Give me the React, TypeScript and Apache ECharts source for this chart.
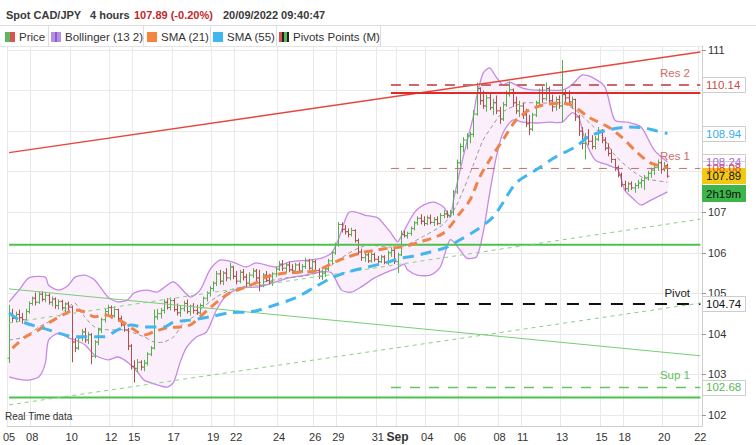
import React, { useEffect, useRef } from 'react';
import * as echarts from 'echarts';

const FONT = "'Liberation Sans', Arial, sans-serif";

// x-axis: 4-hour bars (trading time only); labels at bar indices
const dateLabels: [number, string][] = [
  [0, '05'], [7, '08'], [19, '10'], [31, '12'], [38, '15'], [50, '17'], [62, '19'], [69, '22'],
  [82, '24'], [93, '26'], [100, '29'], [112, '31'], [118, 'Sep'], [127, '04'], [137, '06'],
  [149, '08'], [156, '11'], [168, '13'], [180, '15'], [187, '18'], [199, '20'], [210, '22'],
];
const SLOT_COUNT = 211;

// price bars: [open, high, low, close]
const ohlc: number[][] = [
  [103.40,104.72,103.28,104.50],[104.50,104.62,104.30,104.38],[104.38,104.55,104.28,104.48],[104.48,104.60,104.32,104.40],
  [104.40,104.52,104.25,104.35],[104.35,104.62,104.33,104.55],[104.55,104.80,104.50,104.75],[104.75,104.92,104.70,104.88],
  [104.88,105.02,104.70,104.78],[104.78,105.04,104.74,104.98],[104.98,105.05,104.80,104.85],[104.85,105.02,104.78,104.95],
  [104.95,105.00,104.72,104.78],[104.78,104.92,104.68,104.86],[104.86,104.90,104.62,104.70],[104.70,104.85,104.60,104.80],
  [104.80,104.84,104.58,104.64],[104.64,104.78,104.52,104.74],[104.74,104.80,104.55,104.66],[104.66,104.70,103.30,103.80],
  [103.80,103.90,103.55,103.65],[103.65,103.95,103.60,103.90],[103.90,104.12,103.82,104.05],[104.05,104.15,103.78,103.85],
  [103.85,104.05,103.75,103.98],[103.98,104.02,103.25,103.45],[103.45,103.85,103.40,103.80],[103.80,104.15,103.72,104.10],
  [104.10,104.40,104.02,104.35],[104.35,104.62,104.28,104.55],[104.55,104.72,104.42,104.65],[104.65,104.70,104.38,104.45],
  [104.45,104.68,104.40,104.60],[104.60,104.62,104.30,104.38],[104.38,104.45,104.18,104.22],[104.22,104.30,104.05,104.10],
  [104.10,104.15,103.60,103.70],[103.70,103.75,103.12,103.20],[103.20,103.35,102.80,103.15],[103.15,103.38,103.05,103.30],
  [103.30,103.35,103.10,103.18],[103.18,103.36,103.08,103.28],[103.28,103.55,103.22,103.50],[103.50,103.70,103.45,103.65],
  [103.65,104.60,103.62,104.42],[104.42,104.62,104.35,104.50],[104.50,104.64,104.38,104.58],[104.58,104.85,104.50,104.78],
  [104.78,104.88,104.60,104.65],[104.65,104.90,104.58,104.82],[104.82,104.88,104.55,104.60],[104.60,104.75,104.45,104.52],
  [104.52,104.70,104.42,104.62],[104.62,104.82,104.55,104.75],[104.75,104.85,104.50,104.55],[104.55,104.72,104.45,104.68],
  [104.68,104.76,104.50,104.58],[104.58,104.72,104.47,104.52],[104.52,104.75,104.48,104.70],[104.70,104.92,104.65,104.88],
  [104.88,105.05,104.80,105.00],[105.00,105.18,104.92,105.12],[105.12,105.30,105.05,105.25],[105.25,105.55,105.18,105.48],
  [105.48,105.58,105.22,105.30],[105.30,105.55,105.20,105.50],[105.50,105.62,105.30,105.38],[105.38,105.75,105.32,105.65],
  [105.65,105.68,105.35,105.42],[105.42,105.55,105.22,105.30],[105.30,105.58,105.25,105.52],[105.52,105.60,105.32,105.40],
  [105.40,105.48,105.15,105.25],[105.25,105.52,105.18,105.45],[105.45,105.62,105.38,105.55],[105.55,105.60,105.30,105.38],
  [105.38,105.58,105.05,105.20],[105.20,105.50,105.15,105.45],[105.45,105.55,105.28,105.32],[105.32,105.48,105.22,105.28],
  [105.28,105.52,105.18,105.48],[105.48,105.65,105.40,105.60],[105.60,105.80,105.55,105.72],[105.72,105.82,105.55,105.62],
  [105.62,105.75,105.50,105.70],[105.70,105.78,105.52,105.58],[105.58,105.72,105.48,105.55],[105.55,105.75,105.50,105.70],
  [105.70,105.76,105.50,105.55],[105.55,105.72,105.50,105.66],[105.66,105.88,105.60,105.80],[105.80,105.85,105.58,105.62],
  [105.62,105.84,105.55,105.78],[105.78,105.82,105.52,105.56],[105.56,105.62,105.35,105.42],[105.42,105.58,105.33,105.50],
  [105.50,105.65,105.40,105.60],[105.60,105.85,105.55,105.80],[105.80,106.05,105.72,106.00],[106.00,106.25,105.95,106.20],
  [106.20,106.76,106.15,106.70],[106.70,106.75,106.50,106.58],[106.58,106.68,106.45,106.52],[106.52,106.60,106.38,106.45],
  [106.45,106.62,106.40,106.55],[106.55,106.58,106.25,106.30],[106.30,106.35,105.95,106.02],[106.02,106.10,105.80,105.88],
  [105.88,106.02,105.78,105.95],[105.95,106.00,105.75,105.80],[105.80,106.02,105.76,105.96],[105.96,106.00,105.78,105.84],
  [105.84,105.92,105.74,105.78],[105.78,105.95,105.75,105.90],[105.90,105.94,105.72,105.76],[105.76,106.05,105.70,106.00],
  [106.00,106.12,105.90,106.06],[106.06,106.10,105.72,105.78],[105.78,106.00,105.50,105.95],[105.95,106.55,105.92,106.45],
  [106.45,106.55,106.38,106.42],[106.42,106.52,106.35,106.48],[106.48,106.65,106.42,106.60],[106.60,106.78,106.55,106.74],
  [106.74,106.90,106.68,106.85],[106.85,106.95,106.70,106.78],[106.78,106.90,106.66,106.72],[106.72,106.92,106.68,106.86],
  [106.86,106.94,106.70,106.75],[106.75,106.88,106.66,106.82],[106.82,106.90,106.68,106.72],[106.72,106.98,106.70,106.92],
  [106.92,107.05,106.85,106.96],[106.96,107.04,106.86,106.92],[106.92,107.06,106.88,107.00],[107.00,107.55,106.92,107.50],
  [107.50,108.30,107.45,108.22],[108.22,108.70,108.15,108.62],[108.62,108.85,108.48,108.78],[108.78,108.95,108.55,108.88],
  [108.88,108.98,108.70,108.92],[108.92,109.52,108.85,109.42],[109.42,110.20,109.38,110.05],[110.05,110.08,109.65,109.75],
  [109.75,110.00,109.55,109.62],[109.62,109.90,109.48,109.82],[109.82,109.95,109.52,109.58],[109.58,109.80,109.40,109.70],
  [109.70,109.88,109.42,109.50],[109.50,109.60,109.18,109.30],[109.30,109.72,109.25,109.65],[109.65,110.00,109.60,109.92],
  [109.92,110.22,109.85,110.02],[110.02,110.05,109.60,109.70],[109.70,109.85,109.42,109.50],[109.50,109.75,109.35,109.62],
  [109.62,109.70,109.30,109.40],[109.40,109.55,109.10,109.18],[109.18,109.40,108.90,109.05],[109.05,109.45,109.00,109.40],
  [109.40,109.75,109.35,109.70],[109.70,110.05,109.62,109.95],[109.95,110.10,109.70,109.80],[109.80,110.20,109.75,110.05],
  [110.05,110.10,109.65,109.75],[109.75,109.90,109.48,109.60],[109.60,109.85,109.50,109.78],[109.78,109.88,109.55,109.62],
  [109.62,110.75,109.22,109.90],[109.90,110.02,109.70,109.82],[109.82,110.00,109.62,109.72],[109.72,109.85,109.55,109.78],
  [109.78,109.80,109.25,109.35],[109.35,109.40,108.88,109.00],[109.00,109.10,108.55,108.70],[108.70,108.95,108.30,108.85],
  [108.85,109.05,108.65,108.75],[108.75,108.90,108.55,108.62],[108.62,108.88,108.55,108.80],[108.80,109.10,108.75,109.02],
  [109.02,109.05,108.70,108.78],[108.78,108.85,108.52,108.58],[108.58,108.70,108.38,108.45],[108.45,108.55,108.22,108.30],
  [108.30,108.32,108.02,108.10],[108.10,108.15,107.86,107.92],[107.92,107.98,107.62,107.68],[107.68,107.78,107.52,107.58],
  [107.58,107.75,107.50,107.70],[107.70,107.76,107.55,107.60],[107.60,107.72,107.48,107.66],[107.66,107.80,107.58,107.72],
  [107.72,107.84,107.60,107.78],[107.78,107.92,107.55,107.86],[107.86,108.02,107.78,107.96],[107.96,108.10,107.85,108.04],
  [108.04,108.15,107.92,108.10],[108.10,108.30,108.02,108.22],[108.22,108.28,107.95,108.05],[108.05,108.24,108.00,108.15],
  [108.15,108.20,107.85,107.89],
];

// Bollinger (13, 2) readings: [bar index, value]
const bbUpper: [number, number][] = [
  [0,104.79],[3,105.08],[6,105.38],[11,105.40],[12,105.20],[15,105.08],[18,105.20],[20,105.40],[23,105.45],[26,105.33],
  [30,104.91],[33,104.79],[36,104.84],[38,105.01],[42,105.08],[45,105.03],[50,105.28],[55,104.91],[58,105.08],[61,105.58],
  [64,105.82],[68,105.77],[72,105.65],[75,105.75],[81,105.65],[85,105.77],[91,105.82],[95,105.87],[98,106.00],[100,106.32],
  [103,106.98],[105,107.01],[108,106.93],[112,106.86],[114,106.69],[116,106.49],[118,106.27],[119,106.39],[123,106.98],
  [126,107.18],[129,107.25],[132,107.13],[134,106.88],[135,107.30],[137,108.04],[139,108.71],[141,109.35],[142,109.84],
  [144,110.43],[146,110.56],[148,110.33],[150,110.14],[152,110.21],[156,110.06],[160,110.01],[164,110.01],[168,110.01],
  [171,110.14],[174,110.38],[177,110.33],[181,110.09],[184,109.27],[188,109.22],[192,109.10],[196,108.53],[200,108.24],
];
const bbLower: [number, number][] = [
  [0,102.94],[5,102.86],[9,102.94],[11,103.28],[12,103.85],[15,104.02],[18,103.90],[20,103.85],[23,103.73],[26,103.48],
  [30,103.36],[33,103.43],[35,103.36],[37,103.23],[39,103.06],[41,102.86],[44,102.77],[48,102.69],[50,102.81],[52,103.31],
  [54,103.68],[57,103.93],[60,104.05],[63,104.59],[66,104.94],[70,105.13],[76,105.16],[81,105.28],[85,105.38],[90,105.45],
  [95,105.53],[98,105.50],[101,105.08],[104,105.03],[107,105.16],[111,105.38],[115,105.53],[118,105.63],[120,105.72],
  [121,105.58],[124,105.45],[128,105.45],[131,105.65],[134,106.32],[137,106.07],[139,105.87],[142,105.90],[144,106.49],
  [146,107.47],[148,108.36],[150,108.95],[153,109.27],[156,109.22],[160,109.20],[164,109.22],[168,109.22],[171,109.45],
  [173,109.35],[175,108.78],[178,108.29],[182,108.16],[185,108.04],[187,107.55],[190,107.30],[192,107.18],[195,107.30],
  [200,107.50],
];
const bbMiddle: [number, number][] = [
  [0,103.85],[5,103.93],[9,104.17],[15,104.42],[18,104.66],[20,104.76],[23,104.42],[26,104.17],[30,104.10],[35,104.10],
  [38,104.02],[41,103.93],[44,103.80],[47,103.80],[50,103.93],[53,104.27],[56,104.42],[59,104.66],[63,104.91],[67,105.08],
  [71,105.16],[76,105.26],[84,105.38],[90,105.43],[96,105.58],[100,105.82],[105,106.07],[109,106.19],[115,106.14],
  [120,106.17],[126,106.41],[132,106.71],[136,107.18],[141,108.16],[144,108.78],[147,109.15],[150,109.47],[156,109.69],
  [162,109.69],[168,109.69],[172,109.52],[177,109.15],[180,108.90],[184,108.41],[189,108.04],[193,107.84],[200,107.74],
];
const sma21: [number, number][] = [
  [1,103.65],[5,103.93],[9,104.10],[12,104.27],[18,104.54],[20,104.59],[23,104.54],[26,104.42],[29,104.47],[32,104.39],
  [35,104.27],[38,104.10],[41,103.97],[44,104.05],[48,104.15],[52,104.17],[55,104.22],[58,104.42],[61,104.64],[64,104.84],
  [67,105.01],[71,105.13],[75,105.26],[78,105.40],[84,105.50],[90,105.53],[93,105.55],[99,105.77],[103,105.90],[108,106.02],
  [112,106.07],[116,106.12],[119,106.14],[125,106.27],[132,106.49],[137,106.98],[140,107.30],[143,107.87],[146,108.29],
  [150,108.78],[154,109.27],[158,109.52],[162,109.64],[168,109.69],[171,109.64],[176,109.35],[182,109.10],[186,108.86],
  [191,108.46],[195,108.21],[200,108.10],
];
const sma55: [number, number][] = [
  [0,104.52],[4,104.30],[12,104.10],[15,104.02],[20,103.93],[29,103.93],[33,104.10],[37,104.22],[41,104.17],[47,104.17],
  [50,104.29],[55,104.34],[61,104.42],[67,104.52],[73,104.54],[76,104.59],[87,104.89],[93,105.16],[98,105.38],[103,105.53],
  [109,105.65],[115,105.77],[119,105.87],[123,105.92],[128,106.02],[133,106.14],[137,106.32],[142,106.56],[147,106.88],
  [150,107.23],[154,107.72],[160,108.04],[166,108.36],[172,108.61],[176,108.86],[182,109.03],[188,109.10],[193,109.08],
  [197,109.00],[200,108.94],
];

// monthly pivot points
const pivotLevels = { res2: 110.14, res1: 108.08, pivot: 104.74, sup1: 102.68 };
const pivotStart = 116;
// drawn trend lines and levels: [bar index, value]
const redTrend: [number, number][] = [[0, 108.47], [210, 110.95]];
const redLevel: [number, number][] = [[116, 109.94], [210, 109.94]];
const greenLevelHigh: [number, number][] = [[0, 106.2], [210, 106.2]];
const greenLevelLow: [number, number][] = [[0, 102.43], [210, 102.43]];
const greenDown: [number, number][] = [[0, 105.11], [210, 103.46]];
const greenDashUpper: [number, number][] = [[0, 104.27], [210, 106.83]];
const greenDashLower: [number, number][] = [[0, 102.25], [210, 104.76]];
const countdown = '2h19m';

const UP = '#55b04f';
const DOWN = '#b0504c';

function lineSeries(data: [number, number][], color: string, width: number, type: any, z = 3) {
  return {
    type: 'line', data, showSymbol: false, symbol: 'none', silent: true, z,
    lineStyle: { color, width, type },
  };
}

export default function App() {
  const ref = useRef<HTMLDivElement>(null);
  useEffect(() => {
    const chart = echarts.init(ref.current!, null, { renderer: 'svg' });
    const categories: string[] = Array.from({ length: SLOT_COUNT }, () => '');
    dateLabels.forEach(([i, s]) => { categories[i] = s; });
    const shown = (idx: number, val: string) => val !== '';

    const lastClose = ohlc[ohlc.length - 1][3];
    const tags = [
      { v: pivotLevels.res2, color: '#cc4a4a' },
      { v: sma55[sma55.length - 1][1], color: '#3aaee8' },
      { v: bbUpper[bbUpper.length - 1][1], color: '#b06ad8' },
      { v: pivotLevels.res1, color: '#cc4a4a' },
      { v: pivotLevels.pivot, color: '#111' },
      { v: pivotLevels.sup1, color: '#58b858' },
    ];
    const tagValues = tags.map((t) => t.v).concat([lastClose]);
    // axis labels that sit under a value tag are hidden (as in the source chart)
    const covered = (v: number) => tagValues.some((t) => Math.abs(t - v) < 0.2 && Math.abs(t - v) > 0.001 ? Math.abs(t - v) < 0.2 : Math.abs(t - v) < 0.2);

    const option: any = {
      animation: false,
      grid: { left: 0, right: 54, top: 46, bottom: 19, containLabel: false },
      xAxis: {
        type: 'category', data: categories, boundaryGap: true,
        axisLine: { lineStyle: { color: '#cfcfcf' } },
        axisTick: { show: false },
        axisLabel: {
          interval: shown, color: '#333', fontSize: 11, fontFamily: FONT, margin: 5,
          alignMinLabel: 'center', alignMaxLabel: 'center',
          formatter: (v: string) => (v === 'Sep' ? '{b|Sep}' : v),
          rich: { b: { fontWeight: 'bold', fontSize: 12, fontFamily: FONT, color: '#333' } },
        },
        splitLine: { show: true, interval: shown, lineStyle: { color: '#e9e9e9', width: 1 } },
      },
      yAxis: {
        type: 'value', position: 'right', min: 101.729, max: 111.099, splitNumber: 10, scale: true,
        axisLine: { show: true, lineStyle: { color: '#cfcfcf' } },
        axisTick: { show: true, length: 4, lineStyle: { color: '#999' } },
        axisLabel: {
          color: '#333', fontSize: 11, fontFamily: FONT, margin: 6, showMinLabel: false, showMaxLabel: false,
          formatter: (v: number) => (covered(v) ? '' : String(v)),
        },
        splitLine: { show: true, lineStyle: { color: '#e9e9e9' } },
      },
      series: [
        {
          type: 'custom', name: 'Bollinger', data: [[0, bbMiddle[0][1]]], silent: true, z: 1,
          renderItem: (params: any, api: any) => {
            const up = bbUpper.map((p) => api.coord(p));
            const lo = bbLower.map((p) => api.coord(p));
            const mid = bbMiddle.map((p) => api.coord(p));
            return {
              type: 'group',
              children: [
                { type: 'polygon', shape: { points: up.concat(lo.slice().reverse()), smooth: 0.25 }, style: { fill: '#fbeffb', stroke: null } },
                { type: 'polyline', shape: { points: up, smooth: 0.25 }, style: { stroke: '#c58ae6', lineWidth: 1.3, fill: null } },
                { type: 'polyline', shape: { points: lo, smooth: 0.25 }, style: { stroke: '#c58ae6', lineWidth: 1.3, fill: null } },
                { type: 'polyline', shape: { points: mid, smooth: 0.25 }, style: { stroke: '#9a9a9a', lineWidth: 1, fill: null, lineDash: [4, 3] } },
              ],
            };
          },
        },
        {
          type: 'custom', name: 'Price', silent: true, z: 2,
          data: ohlc.map((d, i) => [i, d[0], d[1], d[2], d[3]]),
          encode: { x: 0, y: [1, 2, 3, 4] },
          renderItem: (params: any, api: any) => {
            const i = api.value(0);
            const o = api.value(1), h = api.value(2), l = api.value(3), c = api.value(4);
            const po = api.coord([i, o]);
            const ph = api.coord([i, h]);
            const pl = api.coord([i, l]);
            const pc = api.coord([i, c]);
            const color = c >= o ? UP : DOWN;
            const x = Math.round(po[0]) + 0.5;
            const st = { stroke: color, lineWidth: 1 };
            return {
              type: 'group',
              children: [
                { type: 'line', shape: { x1: x, y1: ph[1], x2: x, y2: pl[1] }, style: st },
                { type: 'line', shape: { x1: x - 2, y1: po[1], x2: x, y2: po[1] }, style: st },
                { type: 'line', shape: { x1: x, y1: pc[1], x2: x + 2, y2: pc[1] }, style: st },
              ],
            };
          },
        },
        lineSeries(redTrend, '#e8453c', 1.5, 'solid'),
        lineSeries(redLevel, '#e02a2a', 2, 'solid'),
        lineSeries([[pivotStart, pivotLevels.res2], [210, pivotLevels.res2]], '#c86a6a', 2, [10, 8]),
        lineSeries([[pivotStart, pivotLevels.res1], [210, pivotLevels.res1]], '#c86a6a', 1, [8, 8]),
        lineSeries([[pivotStart, pivotLevels.pivot], [210, pivotLevels.pivot]], '#111', 2, [12, 10]),
        lineSeries([[pivotStart, pivotLevels.sup1], [210, pivotLevels.sup1]], '#66c466', 1.5, [10, 9]),
        lineSeries(greenLevelHigh, '#4cc24c', 2, 'solid'),
        lineSeries(greenLevelLow, '#4cc24c', 2, 'solid'),
        lineSeries(greenDown, '#78cd78', 1, 'solid'),
        lineSeries(greenDashUpper, '#86d086', 1, [4, 4]),
        lineSeries(greenDashLower, '#86d086', 1, [4, 4]),
        { ...lineSeries(sma21, '#f0834a', 3, [9, 6], 4), smooth: 0.3 },
        { ...lineSeries(sma55, '#43b6ee', 3, [11, 7], 4), smooth: 0.3 },
      ],
    };
    chart.setOption(option);

    const yPx = (v: number) => chart.convertToPixel({ yAxisIndex: 0 }, v) as number;
    const g: any[] = [];
    const text = (t: string, x: number, y: number, fill: string, font: string, align = 'left', z = 110) => ({
      type: 'text', x, y, z, silent: true,
      style: { text: t, fill, font, textAlign: align, textVerticalAlign: 'middle' },
    });
    const rect = (x: number, y: number, w: number, h: number, fill: string, stroke: string | null, z = 105) => ({
      type: 'rect', z, silent: true, shape: { x, y, width: w, height: h }, style: { fill, stroke, lineWidth: 1 },
    });
    // header
    const hf = `bold 11px ${FONT}`;
    g.push(text('Spot CAD/JPY', 6, 15, '#3a3a3a', hf));
    g.push(text('4 hours', 90, 15, '#3a3a3a', hf));
    g.push(text('107.89 (-0.20%)', 134, 15, '#c0282d', hf));
    g.push(text('20/09/2022 09:40:47', 223, 15, '#3a3a3a', hf));
    g.push({ type: 'line', z: 105, silent: true, shape: { x1: 0, y1: 25.5, x2: 756, y2: 25.5 }, style: { stroke: '#dddddd', lineWidth: 1 } });
    // legend
    [48, 143, 210, 276, 380].forEach((x) => g.push({ type: 'line', z: 105, silent: true, shape: { x1: x + 0.5, y1: 26, x2: x + 0.5, y2: 47 }, style: { stroke: '#dddddd', lineWidth: 1 } }));
    g.push({ type: 'line', z: 105, silent: true, shape: { x1: 0, y1: 46.5, x2: 380, y2: 46.5 }, style: { stroke: '#e4e4e4', lineWidth: 1 } });
    g.push(rect(5, 32, 5, 10, '#5cb85c', null));
    g.push(rect(10, 32, 5, 10, '#d9534f', null));
    g.push(rect(51, 32, 10, 10, '#b68fe2', null));
    g.push(rect(55, 32, 2, 10, '#8a5cc8', null));
    g.push(rect(147, 32, 10, 10, '#f5843f', null));
    g.push(rect(213, 32, 10, 10, '#3fb7f1', null));
    g.push(rect(279, 32, 3, 10, '#d9534f', null));
    g.push(rect(282, 32, 2, 10, '#222', null));
    g.push(rect(284, 32, 3, 10, '#5cb85c', null));
    g.push(rect(287, 32, 2, 10, '#222', null));
    const lf = `11.5px ${FONT}`;
    g.push(text('Price', 19, 37, '#333', lf));
    g.push(text('Bollinger (13 2)', 65, 37, '#333', lf));
    g.push(text('SMA (21)', 161, 37, '#333', lf));
    g.push(text('SMA (55)', 227, 37, '#333', lf));
    g.push(text('Pivots Points (M)', 293, 37, '#333', lf));
    g.push(text('Real Time data', 5, 416, '#333', `10px ${FONT}`));
    // level captions
    g.push(text('Res 2', 690, yPx(pivotLevels.res2) - 12, '#d06a6a', lf, 'right'));
    g.push(text('Res 1', 690, yPx(pivotLevels.res1) - 12, '#d06a6a', lf, 'right'));
    g.push(text('Pivot', 690, yPx(pivotLevels.pivot) - 11, '#222', lf, 'right'));
    g.push(text('Sup 1', 690, yPx(pivotLevels.sup1) - 12, '#5cbf5c', lf, 'right'));
    // right value tags
    tags.forEach((t) => {
      const y = yPx(t.v);
      g.push(rect(702.5, Math.round(y - 7.5) + 0.5, 43, 15, '#ffffff', '#cccccc'));
      g.push(text(t.v.toFixed(2), 706, y, t.color, lf));
    });
    const yp = yPx(lastClose);
    g.push(rect(702, Math.round(yp - 8), 44, 16, '#f2c812', null, 106));
    g.push(text(lastClose.toFixed(2), 706, yp, '#111', lf, 'left', 111));
    g.push(rect(702, Math.round(yp - 8) + 17, 44, 17, '#3db54a', null, 106));
    g.push(text(countdown, 706, yp + 17.5, '#111', lf, 'left', 111));
    chart.setOption({ graphic: g });

    return () => chart.dispose();
  }, []);
  return <div ref={ref} style={{ position: 'absolute', left: 0, top: 0, width: 756, height: 445, background: '#fff' }} />;
}
